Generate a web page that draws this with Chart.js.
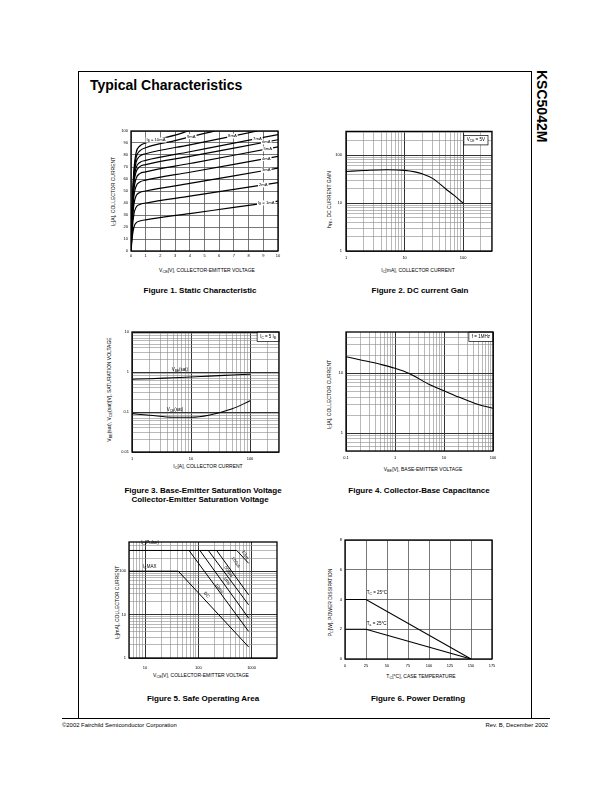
<!DOCTYPE html>
<html>
<head>
<meta charset="utf-8">
<title>KSC5042M Typical Characteristics</title>
<script src="https://cdn.jsdelivr.net/npm/chart.js@4.4.1/dist/chart.umd.min.js"></script>
<style>
  body { margin: 0; background: #fff; }
  #page { position: relative; width: 612px; height: 792px; font-family: "Liberation Sans", Arial, sans-serif; color: #000; overflow: hidden; }
  #page div { position: absolute; line-height: 1; white-space: nowrap; }
  canvas { position: absolute; }
  .cap { font-weight: bold; font-size: 8px; width: 240px; text-align: center; }
  .xt { font-size: 5px; width: 200px; text-align: center; }
  .yt { font-size: 5px; width: 200px; text-align: center; transform: rotate(-90deg); }
  sub { font-size: 75%; vertical-align: -0.35em; line-height: 0; }
</style>
</head>
<body>
<div id="page">
  <div style="left:78px;top:71px;width:452px;height:647px;border:1px solid #000;border-bottom:none;"></div>
  <div style="left:62px;top:718px;width:488px;border-top:1px solid #000;"></div>
  <div style="left:90px;top:78px;font-size:14px;font-weight:bold;">Typical Characteristics</div>
  <div style="left:549px;top:70px;font-size:14px;font-weight:bold;transform:rotate(90deg);transform-origin:left top;">KSC5042M</div>
  <div style="left:62px;top:723px;font-size:5.9px;">©2002 Fairchild Semiconductor Corporation</div>
  <div style="right:64px;top:723px;font-size:5.9px;">Rev. B, December 2002</div>

  <!-- axis titles -->
  <div class="xt" style="left:107px;top:268px;">V<sub>CE</sub>[V], COLLECTOR-EMITTER VOLTAGE</div>
  <div class="yt" style="left:13px;top:189px;">I<sub>C</sub>[A], COLLECTOR CURRENT</div>
  <div class="xt" style="left:318px;top:268px;">I<sub>C</sub>[mA], COLLECTOR CURRENT</div>
  <div class="yt" style="left:229px;top:197px;">h<sub>FE</sub>, DC CURRENT GAIN</div>
  <div class="xt" style="left:108px;top:464px;">I<sub>C</sub>[A], COLLECTOR CURRENT</div>
  <div class="yt" style="left:9px;top:387px;">V<sub>BE</sub>(sat), V<sub>CE</sub>(sat)[V], SATURATION VOLTAGE</div>
  <div class="xt" style="left:323px;top:467px;">V<sub>BE</sub>[V], BASE-EMITTER VOLTAGE</div>
  <div class="yt" style="left:229px;top:392px;">I<sub>C</sub>[A], COLLECTOR CURRENT</div>
  <div class="xt" style="left:101px;top:673px;">V<sub>CE</sub>[V], COLLECTOR-EMITTER VOLTAGE</div>
  <div class="yt" style="left:17px;top:600px;">I<sub>C</sub>[mA], COLLECTOR CURRENT</div>
  <div class="xt" style="left:321px;top:674px;">T<sub>C</sub>[°C], CASE TEMPERATURE</div>
  <div class="yt" style="left:230px;top:600px;">P<sub>C</sub>[W], POWER DISSIPATION</div>

  <!-- captions -->
  <div class="cap" style="left:80px;top:287px;">Figure 1. Static Characteristic</div>
  <div class="cap" style="left:300px;top:287px;">Figure 2. DC current Gain</div>
  <div class="cap" style="left:83px;top:487px;">Figure 3. Base-Emitter Saturation Voltage</div>
  <div class="cap" style="left:80px;top:496px;">Collector-Emitter Saturation Voltage</div>
  <div class="cap" style="left:299px;top:487px;">Figure 4. Collector-Base Capacitance</div>
  <div class="cap" style="left:83px;top:695px;">Figure 5. Safe Operating Area</div>
  <div class="cap" style="left:298px;top:695px;">Figure 6. Power Derating</div>
</div>

<script>
// Figure 1 - static characteristic, [VCE, IC] for each base current
const ibNames = ['1mA', '2mA', '3mA', '4mA', '5mA', '6mA', '7mA', '8mA', '9mA', '10mA'];
const ib1mA = [[0, 0], [0.1, 13], [0.2, 20], [0.35, 23.5], [0.6, 25], [1, 26], [4, 31.2], [7, 36.3], [10, 41.5]];
const ib2mA = [[0, 0], [0.1, 20], [0.2, 31], [0.35, 36.5], [0.6, 38.8], [1, 40], [4, 45.7], [7, 51.4], [10, 57]];
const ib3mA = [[0, 0], [0.1, 25], [0.2, 39], [0.35, 46], [0.6, 48.8], [1, 50], [4, 56.3], [7, 62.6], [10, 69]];
const ib4mA = [[0, 0], [0.1, 29], [0.2, 46], [0.35, 54], [0.6, 57.5], [1, 59], [4, 65.6], [7, 72.2], [10, 78.8]];
const ib5mA = [[0, 0], [0.1, 32], [0.2, 51], [0.35, 60.5], [0.6, 64.5], [1, 66], [4, 72.9], [7, 79.8], [10, 86.7]];
const ib6mA = [[0, 0], [0.1, 35], [0.2, 56], [0.35, 66], [0.6, 70.3], [1, 72], [4, 78.9], [7, 85.8], [10, 92.7]];
const ib7mA = [[0, 0], [0.1, 37], [0.2, 59], [0.35, 69.5], [0.6, 73.8], [1, 75.5], [4, 82.7], [7, 89.9], [10, 97]];
const ib8mA = [[0, 0], [0.1, 39], [0.2, 62], [0.35, 74], [0.6, 79], [1, 81], [4, 88.5], [7, 96], [8.6, 100]];
const ib9mA = [[0, 0], [0.1, 41], [0.2, 65], [0.35, 78], [0.6, 83.5], [1, 86], [3, 92], [5, 98], [5.7, 100]];
const ib10mA = [[0, 0], [0.1, 43], [0.2, 68], [0.35, 82], [0.6, 87.5], [1, 90], [2, 93.5], [3, 96.5], [3.9, 100]];
const ibLabelX = [9.2, 9.0, 9.2, 9.2, 9.3, 9.2, 8.6, 6.9, 4.1, 1.7];

// Figure 2 - DC current gain
const hfeIc = [1, 2, 5, 10, 15, 20, 30, 50, 70, 100];
const hfeGain = [46, 48, 50, 48.5, 45, 41, 33, 20, 14.5, 10];

// Figure 3 - saturation voltages
const satIc = [1, 2, 5, 10, 20, 50, 100];
const vbeSat = [0.66, 0.68, 0.72, 0.75, 0.79, 0.84, 0.88];
const vceSat = [0.091, 0.083, 0.074, 0.074, 0.083, 0.12, 0.19];

// Figure 4 - collector-base capacitance
const cobV = [0.1, 0.2, 0.5, 1, 2, 5, 10, 20, 50, 100];
const cobC = [18.9, 16.7, 14.1, 12.1, 9.8, 6.5, 5.1, 4.0, 3.0, 2.6];

// Figure 5 - safe operating area, [VCE, IC]
const soaDc = [[5, 100], [42, 100], [880, 1.8]];
const soaPulse = [[5, 300], [527, 300]];
const soa10ms = [[67, 300], [880, 4.1]];
const soa1ms = [[107, 300], [880, 8.3]];
const soa500us = [[154, 300], [880, 16.8]];
const soa100us = [[221, 300], [880, 28.5]];
const soa10us = [[527, 300], [880, 152]];

// Figure 6 - power derating
const caseTemp = [0, 25, 150];
const pdTc = [4, 4, 0];
const pdTa = [2, 2, 0];

// tick labels shown on the log axes
const fig2XLabels = [1, 10, 100];
const fig2YLabels = [1, 10, 100];
const fig3XLabels = [1, 10, 100];
const fig3YLabels = [0.01, 0.1, 1, 10];
const fig4XLabels = [0.1, 1, 10, 100];
const fig4YLabels = [1, 10];
const fig5XLabels = [10, 100, 1000];
const fig5YLabels = [1, 10, 100];

// ---------------------------------------------------------------
const ML = 24, MT = 6, MR = 10, MB = 16;
const FONT = '"Liberation Sans", Arial, sans-serif';
const tickFont = { family: FONT, size: 4 };

function pairs(list) {
    return list.map(p => ({ x: p[0], y: p[1] }));
}
function zip(xs, ys) {
    return xs.map((x, i) => ({ x: x, y: ys[i] }));
}
function isDecade(v) {
    const l = Math.log10(v);
    return Math.abs(l - Math.round(l)) < 1e-6;
}
function logGrid(min, max) {
    const out = [];
    for (let e = Math.floor(Math.log10(min)) - 1; e <= Math.ceil(Math.log10(max)); e++) {
        for (let m = 1; m < 10; m++) {
            const v = Number((m * Math.pow(10, e)).toPrecision(6));
            if (v >= min - 1e-12 && v <= max + 1e-12) out.push({ value: v });
        }
    }
    return out;
}

function linAxis(min, max, step, pad) {
    return {
        type: 'linear', min: min, max: max,
        ticks: { stepSize: step, padding: pad, font: tickFont, color: '#000', autoSkip: false, maxRotation: 0 },
        grid: { color: '#555', lineWidth: 0.8, drawTicks: false },
        border: { display: false }
    };
}

function logAxis(min, max, labels, pad, gridMax) {
    return {
        type: 'logarithmic', min: min, max: max,
        afterBuildTicks: s => { s.ticks = logGrid(min, gridMax || max); },
        ticks: {
            padding: pad, font: tickFont, color: '#000', autoSkip: false, maxRotation: 0,
            callback: v => labels.some(l => Math.abs(l - v) < l * 1e-6) ? String(v) : ''
        },
        grid: {
            drawTicks: false,
            color: c => (c.tick && isDecade(c.tick.value)) ? '#333' : '#8a8a8a',
            lineWidth: c => (c.tick && isDecade(c.tick.value)) ? 1 : 0.6
        },
        border: { display: false }
    };
}

function subParts(text) {
    const out = [];
    text.split(/(_\{[^}]*\})/).forEach(s => {
        if (!s) return;
        if (s.startsWith('_{')) out.push({ t: s.slice(2, -1), sub: true });
        else out.push({ t: s, sub: false });
    });
    return out;
}

function interpY(data, x, logX) {
    for (let i = 1; i < data.length; i++) {
        if (x <= data[i].x) {
            const a = data[i - 1], b = data[i];
            const f = logX ? Math.log(x / a.x) / Math.log(b.x / a.x) : (x - a.x) / (b.x - a.x);
            return a.y + f * (b.y - a.y);
        }
    }
    return data[data.length - 1].y;
}

function drawNote(chart, n) {
    const ctx = chart.ctx, a = chart.chartArea;
    const size = n.size || 4.5;
    const parts = subParts(n.text);
    let w = 0;
    parts.forEach(p => {
        ctx.font = (p.sub ? size * 0.72 : size) + 'px ' + FONT;
        p.w = ctx.measureText(p.t).width;
        w += p.w;
    });
    let px, py;
    if (n.corner) {
        const bw = w + 6, bh = size + 5;
        const x0 = a.right - n.inset - bw, y0 = a.top + n.inset;
        ctx.fillStyle = '#fff';
        ctx.fillRect(x0, y0, bw, bh);
        ctx.strokeStyle = '#000';
        ctx.lineWidth = 0.7;
        ctx.strokeRect(x0, y0, bw, bh);
        px = x0 + bw / 2;
        py = y0 + bh / 2;
    } else {
        const xs = chart.scales.x;
        px = xs.getPixelForValue(n.x);
        const yv = n.y !== undefined ? n.y : interpY(chart.data.datasets[n.series].data, n.x, xs.type === 'logarithmic');
        py = chart.scales.y.getPixelForValue(yv);
    }
    ctx.save();
    ctx.translate(px, py);
    if (n.rot) ctx.rotate(n.rot * Math.PI / 180);
    let x = n.align === 'left' ? 0 : -w / 2;
    if (n.bg) {
        ctx.fillStyle = '#fff';
        ctx.fillRect(x - 1, -size * 0.6, w + 2, size * 1.2);
    }
    ctx.fillStyle = '#000';
    ctx.textBaseline = 'middle';
    parts.forEach(p => {
        ctx.font = (p.sub ? size * 0.72 : size) + 'px ' + FONT;
        ctx.fillText(p.t, x, p.sub ? size * 0.3 : 0);
        x += p.w;
    });
    ctx.restore();
}

function framePlugin(notes) {
    return {
        id: 'frame',
        afterDatasetsDraw(chart) {
            const ctx = chart.ctx, a = chart.chartArea;
            ctx.save();
            notes.forEach(n => drawNote(chart, n));
            ctx.strokeStyle = '#000';
            ctx.lineWidth = 1.3;
            ctx.strokeRect(a.left, a.top, a.right - a.left, a.bottom - a.top);
            ctx.restore();
        }
    };
}

function makeChart(box, datasets, sx, sy, notes) {
    const c = document.createElement('canvas');
    c.width = box[2] + ML + MR;
    c.height = box[3] + MT + MB;
    c.style.left = (box[0] - ML) + 'px';
    c.style.top = (box[1] - MT) + 'px';
    c.style.width = c.width + 'px';
    c.style.height = c.height + 'px';
    document.getElementById('page').appendChild(c);
    sx.afterFit = s => { s.height = MB; };
    sy.afterFit = s => { s.width = ML; };
    return new Chart(c.getContext('2d'), {
        type: 'line',
        data: { datasets: datasets },
        options: {
            responsive: false,
            animation: false,
            devicePixelRatio: 1,
            layout: { padding: { left: 0, top: MT, right: MR, bottom: 0 } },
            plugins: { legend: { display: false }, tooltip: { enabled: false } },
            elements: { point: { radius: 0 } },
            scales: { x: sx, y: sy }
        },
        plugins: [framePlugin(notes || [])]
    });
}

function curve(data, smooth, width) {
    return {
        data: data,
        borderColor: '#000',
        borderWidth: width || 1.1,
        fill: false,
        cubicInterpolationMode: smooth ? 'monotone' : 'default',
        tension: 0
    };
}

// Figure 1
const ibCurves = [ib1mA, ib2mA, ib3mA, ib4mA, ib5mA, ib6mA, ib7mA, ib8mA, ib9mA, ib10mA];
makeChart([131, 131, 147, 120],
    ibCurves.map(c => curve(pairs(c), true, 1.2)),
    linAxis(0, 10, 1, 2),
    linAxis(0, 100, 10, 3),
    ibNames.map((name, i) => ({
        series: i, x: ibLabelX[i], bg: true, size: 4.2,
        text: (i === 0 || i === 9) ? 'I_{B} = ' + name : name
    }))
);

// Figure 2
makeChart([346, 131, 146, 120],
    [curve(zip(hfeIc, hfeGain), true)],
    logAxis(1, 310, fig2XLabels, 4),
    logAxis(1, 316, fig2YLabels, 4),
    [{ corner: true, inset: 4, text: 'V_{CE} = 5V', size: 4.5 }]
);

// Figure 3
makeChart([132, 332, 147, 120],
    [curve(zip(satIc, vbeSat), true), curve(zip(satIc, vceSat), true)],
    logAxis(1, 310, fig3XLabels, 4),
    logAxis(0.01, 10, fig3YLabels, 3),
    [
        { corner: true, inset: 0, text: 'I_{C} = 5 I_{B}', size: 4.5 },
        { x: 6.5, y: 1.17, text: 'V_{BE}(sat)', size: 4.5 },
        { x: 5.35, y: 0.117, text: 'V_{CE}(sat)', size: 4.5 }
    ]
);

// Figure 4
makeChart([346, 332, 147, 119],
    [curve(zip(cobV, cobC), true)],
    logAxis(0.1, 100, fig4XLabels, 4),
    logAxis(0.5, 49, fig4YLabels, 3),
    [{ corner: true, inset: 0, text: 'f = 1MHz', size: 4.5 }]
);

// Figure 5
makeChart([129, 542, 148, 116],
    [soaDc, soaPulse, soa10ms, soa1ms, soa500us, soa100us, soa10us].map(s => curve(pairs(s), false, 1)),
    logAxis(5, 3000, fig5XLabels, 7, 1000),
    logAxis(1, 470, fig5YLabels, 3),
    [
        { x: 8.5, y: 440, text: 'I_{C}(Pulse)', align: 'left', size: 4.5 },
        { x: 9.2, y: 128, text: 'I_{C}MAX', align: 'left', size: 4.5 },
        { x: 143, y: 28.5, text: 'DC', rot: 50, size: 4.5 },
        { x: 246, y: 40, text: '10ms', rot: 52, size: 4.5 },
        { x: 342, y: 60, text: '1ms', rot: 52, size: 4.5 },
        { x: 368, y: 98, text: '500μs', rot: 55, size: 4.5 },
        { x: 506, y: 161, text: '100μs', rot: 55, size: 4.5 },
        { x: 758, y: 237, text: '10μs', rot: 60, size: 4.5 }
    ]
);

// Figure 6
makeChart([345, 540, 147, 119],
    [curve(zip(caseTemp, pdTc), false), curve(zip(caseTemp, pdTa), false)],
    linAxis(0, 175, 25, 4),
    linAxis(0, 8, 2, 3),
    [
        { x: 26, y: 4.45, text: 'T_{C} = 25°C', align: 'left', size: 4.5 },
        { x: 26, y: 2.4, text: 'T_{a} = 25°C', align: 'left', size: 4.5 }
    ]
);
</script>
</body>
</html>
